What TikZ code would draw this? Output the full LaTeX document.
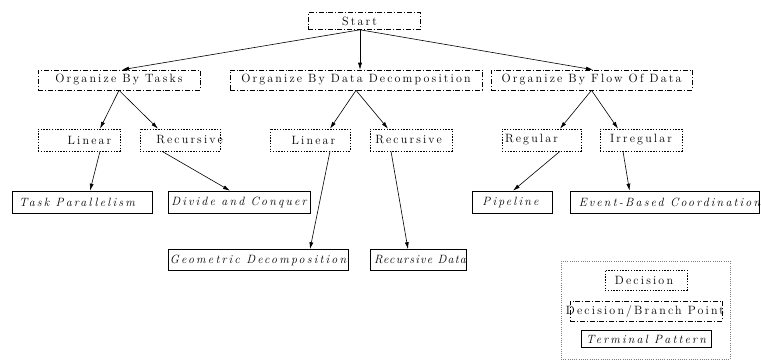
\documentclass[tikz,border=0pt]{standalone}
\usepackage{fontspec}
\setmainfont{Latin Modern Roman}[LetterSpace=18]
\usetikzlibrary{arrows.meta}
\newcommand\sh[2]{\makebox[0pt]{\hspace*{#1}#2}}
\begin{document}
\begin{tikzpicture}[x=1pt,y=-1pt,
  every node/.style={inner sep=0pt,font=\fontsize{12}{14}\selectfont},
  branchbox/.style={draw,line width=0.6pt,dash pattern=on 5pt off 2pt on 0.8pt off 2pt,minimum height=20pt},
  decbox/.style={draw,line width=0.6pt,dash pattern=on 1.4pt off 1.4pt,minimum height=22pt},
  termbox/.style={draw,line width=0.6pt,minimum height=22pt,font=\fontsize{12}{14}\selectfont\itshape},
  conn/.style={line width=0.6pt,-{Latex[length=7pt,width=4pt]}}]
\useasboundingbox (0,0) rectangle (761,360);
\node[branchbox,minimum width=112pt,minimum height=17pt] (start) at (364,21) {\sh{-9pt}{Start}};
\node[branchbox,minimum width=162pt] (otask) at (119,80) {\sh{0pt}{Organize By Tasks}};
\node[branchbox,minimum width=252pt] (odata) at (356,80) {\sh{0pt}{Organize By Data Decomposition}};
\node[branchbox,minimum width=201pt] (oflow) at (591.5,80) {\sh{0pt}{Organize By Flow Of Data}};
\node[decbox,minimum width=82pt] (lin1) at (79,140) {\sh{21pt}{Linear}};
\node[decbox,minimum width=80pt] (rec1) at (180,140) {\sh{19pt}{Recursive}};
\node[decbox,minimum width=80pt] (lin2) at (310,140) {\sh{7pt}{Linear}};
\node[decbox,minimum width=82pt] (rec2) at (411,140) {\sh{-5pt}{Recursive}};
\node[decbox,minimum width=79pt] (reg) at (541.5,140) {\sh{-20pt}{Regular}};
\node[decbox,minimum width=82pt] (irr) at (641,140) {\sh{0pt}{Irregular}};
\node[termbox,minimum width=140pt] (tp) at (82,202) {\sh{-10pt}{Task Parallelism}};
\node[termbox,minimum width=142pt] (dc) at (239,202) {\sh{0pt}{Divide and Conquer}};
\node[termbox,minimum width=80pt] (pipe) at (512,202) {\sh{-3pt}{Pipeline}};
\node[termbox,minimum width=189pt] (ebc) at (664.5,202) {\sh{10pt}{Event-Based Coordination}};
\node[termbox,minimum width=180pt,minimum height=21pt] (geo) at (258,260) {\sh{0pt}{Geometric Decomposition}};
\node[termbox,minimum width=96pt,minimum height=21pt] (rdata) at (418,260) {\sh{4pt}{\addfontfeatures{LetterSpace=10}Recursive Data}};
\node[draw=gray,line width=0.5pt,dash pattern=on 0.7pt off 1.5pt,minimum width=169pt,minimum height=98pt] (legend) at (645.5,310) {};
\node[decbox,minimum width=82pt,minimum height=20pt] (ldec) at (646,280) {\sh{-4pt}{Decision}};
\node[branchbox,minimum width=152pt,minimum height=20pt] (lbranch) at (646,311) {\sh{-2pt}{Decision/Branch Point}};
\node[termbox,minimum width=130pt,minimum height=17pt] (lterm) at (646,339) {\sh{0pt}{Terminal Pattern}};
\draw[conn] ([xshift=-4pt]start.south) -- ([xshift=3pt]otask.north);
\draw[conn] ([xshift=-4pt]start.south) -- ([xshift=4pt]odata.north);
\draw[conn] ([xshift=-4pt]start.south) -- ([xshift=1.5pt]oflow.north);
\draw[conn] (otask.south) -- ([xshift=21pt]lin1.north);
\draw[conn] (otask.south) -- ([xshift=-22pt]rec1.north);
\draw[conn] (odata.south) -- ([xshift=20pt]lin2.north);
\draw[conn] (odata.south) -- ([xshift=-23pt]rec2.north);
\draw[conn] (oflow.south) -- ([xshift=18.5pt]reg.north);
\draw[conn] (oflow.south) -- ([xshift=-23pt]irr.north);
\draw[conn] ([xshift=21pt]lin1.south) -- ([xshift=8pt]tp.north);
\draw[conn] ([xshift=-18pt]rec1.south) -- ([xshift=-9pt]dc.north);
\draw[conn] ([xshift=20pt]lin2.south) -- ([xshift=52pt]geo.north);
\draw[conn] ([xshift=-20pt]rec2.south) -- ([xshift=-10pt]rdata.north);
\draw[conn] ([xshift=18.5pt]reg.south) -- ([xshift=1pt]pipe.north);
\draw[conn] ([xshift=-18pt]irr.south) -- ([xshift=-35pt]ebc.north);
\end{tikzpicture}
\end{document}
